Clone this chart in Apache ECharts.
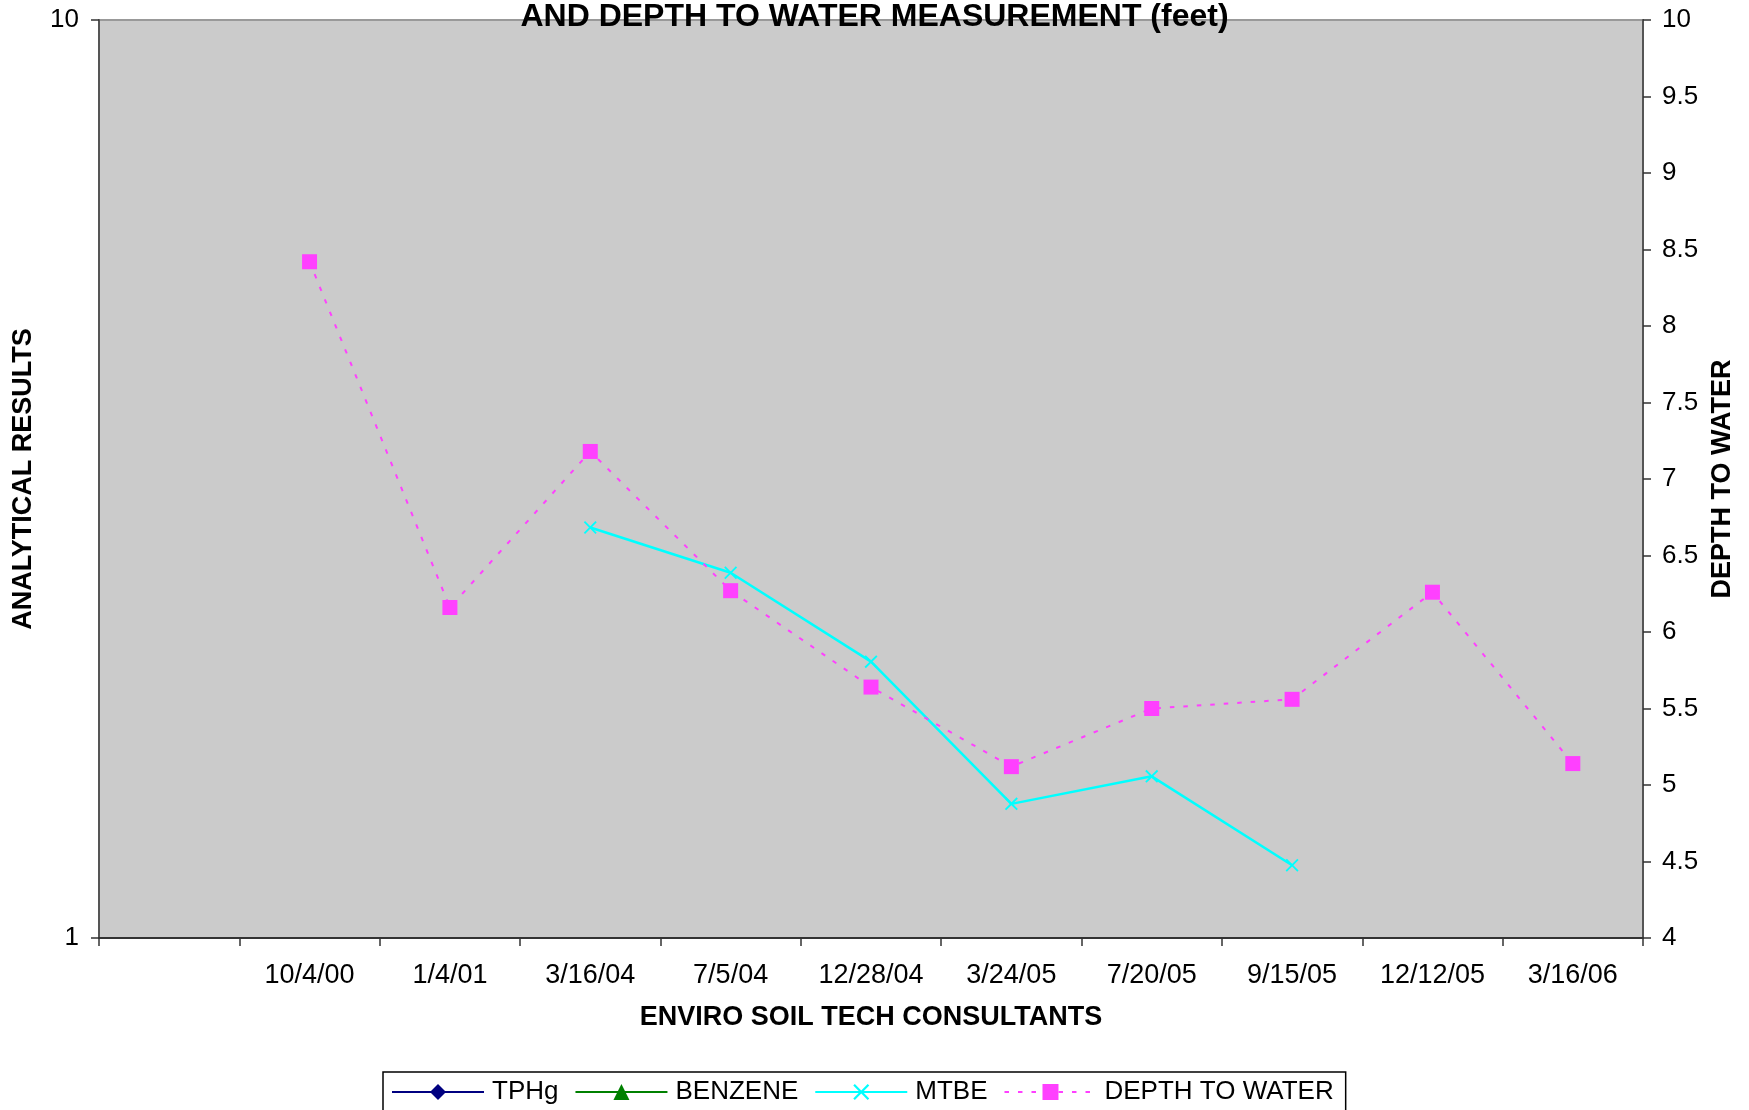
<!DOCTYPE html>
<html>
<head>
<meta charset="utf-8">
<script src="https://cdn.jsdelivr.net/npm/echarts@6/dist/echarts.min.js"></script>
<style>
html,body{margin:0;padding:0;background:#fff;}
#chart{width:1749px;height:1110px;}
</style>
</head>
<body>
<div id="chart"></div>
<script>
var categories = ["", "10/4/00", "1/4/01", "3/16/04", "7/5/04", "12/28/04", "3/24/05", "7/20/05", "9/15/05", "12/12/05", "3/16/06"];
var tphg = [null, null, null, null, null, null, null, null, null, null, null];
var benzene = [null, null, null, null, null, null, null, null, null, null, null];
var mtbe = [null, null, null, 2.8, 2.5, 2.0, 1.4, 1.5, 1.2, null, null];
var depthToWater = [null, 8.42, 6.16, 7.18, 6.27, 5.64, 5.12, 5.50, 5.56, 6.26, 5.14];
var rightTicks = {min: 4, max: 10, interval: 0.5};

var FONT = "'Liberation Sans', Arial, sans-serif";
var chart = echarts.init(document.getElementById('chart'));
var xPath = 'path://M0,1L1,0L5,4L9,0L10,1L6,5L10,9L9,10L5,6L1,10L0,9L4,5Z';

chart.setOption({
  animation: false,
  backgroundColor: '#ffffff',
  textStyle: {fontFamily: FONT},
  title: {
    text: 'AND DEPTH TO WATER MEASUREMENT (feet)',
    left: 'center',
    top: 1,
    padding: 0,
    textStyle: {fontFamily: FONT, fontSize: 32, fontWeight: 'bold', color: '#000', lineHeight: 32}
  },
  grid: {
    left: 99, right: 106, top: 20, bottom: 172,
    show: true, backgroundColor: '#cbcbcb', borderColor: '#999999', borderWidth: 2,
    containLabel: false
  },
  legend: {
    left: 383,
    top: 1072,
    orient: 'horizontal',
    padding: [7, 12, 30, 8],
    itemGap: 16,
    itemWidth: 92,
    itemHeight: 20,
    borderColor: '#000',
    borderWidth: 1.5,
    backgroundColor: '#fff',
    textStyle: {fontFamily: FONT, fontSize: 26, color: '#000', lineHeight: 26, padding: [0, 0, 0, 3]},
    data: ['TPHg', 'BENZENE', 'MTBE', 'DEPTH TO WATER']
  },
  xAxis: {
    type: 'category',
    data: categories,
    boundaryGap: true,
    name: 'ENVIRO SOIL TECH CONSULTANTS',
    nameLocation: 'middle',
    nameGap: 66,
    nameTextStyle: {fontFamily: FONT, fontSize: 27, fontWeight: 'bold', color: '#000'},
    axisLine: {lineStyle: {color: '#333', width: 2}},
    axisTick: {show: true, interval: 0, length: 8, alignWithLabel: false, lineStyle: {color: '#333', width: 1.5}},
    axisLabel: {interval: 0, fontFamily: FONT, fontSize: 27, color: '#000', margin: 24},
    splitLine: {show: false}
  },
  yAxis: [
    {
      type: 'log',
      logBase: 10,
      min: 1,
      max: 10,
      position: 'left',
      name: 'ANALYTICAL RESULTS',
      nameLocation: 'middle',
      nameRotate: 90,
      nameGap: 62,
      nameTextStyle: {fontFamily: FONT, fontSize: 27, fontWeight: 'bold', color: '#000'},
      axisLine: {show: true, lineStyle: {color: '#555', width: 2}},
      axisTick: {show: true, length: 8, lineStyle: {color: '#333', width: 1.5}},
      axisLabel: {fontFamily: FONT, fontSize: 26, color: '#000', margin: 20},
      splitLine: {show: false},
      minorTick: {show: false}
    },
    {
      type: 'value',
      min: rightTicks.min,
      max: rightTicks.max,
      interval: rightTicks.interval,
      position: 'right',
      name: 'DEPTH TO WATER',
      nameLocation: 'middle',
      nameRotate: 90,
      nameGap: 65,
      nameTextStyle: {fontFamily: FONT, fontSize: 27, fontWeight: 'bold', color: '#000'},
      axisLine: {show: true, lineStyle: {color: '#555', width: 2}},
      axisTick: {show: true, length: 8, lineStyle: {color: '#333', width: 1.5}},
      axisLabel: {fontFamily: FONT, fontSize: 26, color: '#000', margin: 19},
      splitLine: {show: false}
    }
  ],
  series: [
    {
      name: 'TPHg', type: 'line', yAxisIndex: 0, data: tphg,
      symbol: 'diamond', symbolSize: 14,
      itemStyle: {color: '#000080'},
      lineStyle: {color: '#000080', width: 2.5}
    },
    {
      name: 'BENZENE', type: 'line', yAxisIndex: 0, data: benzene,
      symbol: 'triangle', symbolSize: 14,
      itemStyle: {color: '#008000'},
      lineStyle: {color: '#008000', width: 2.5}
    },
    {
      name: 'MTBE', type: 'line', yAxisIndex: 0, data: mtbe,
      symbol: xPath, symbolSize: 13, showAllSymbol: true,
      itemStyle: {color: '#00ffff'},
      lineStyle: {color: '#00ffff', width: 2.5},
      connectNulls: false
    },
    {
      name: 'DEPTH TO WATER', type: 'line', yAxisIndex: 1, data: depthToWater,
      symbol: 'rect', symbolSize: 15, showAllSymbol: true,
      itemStyle: {color: '#ff40ff'},
      lineStyle: {color: '#ff40ff', width: 2, type: [4.5, 9]},
      z: 3
    }
  ]
});
</script>
</body>
</html>
